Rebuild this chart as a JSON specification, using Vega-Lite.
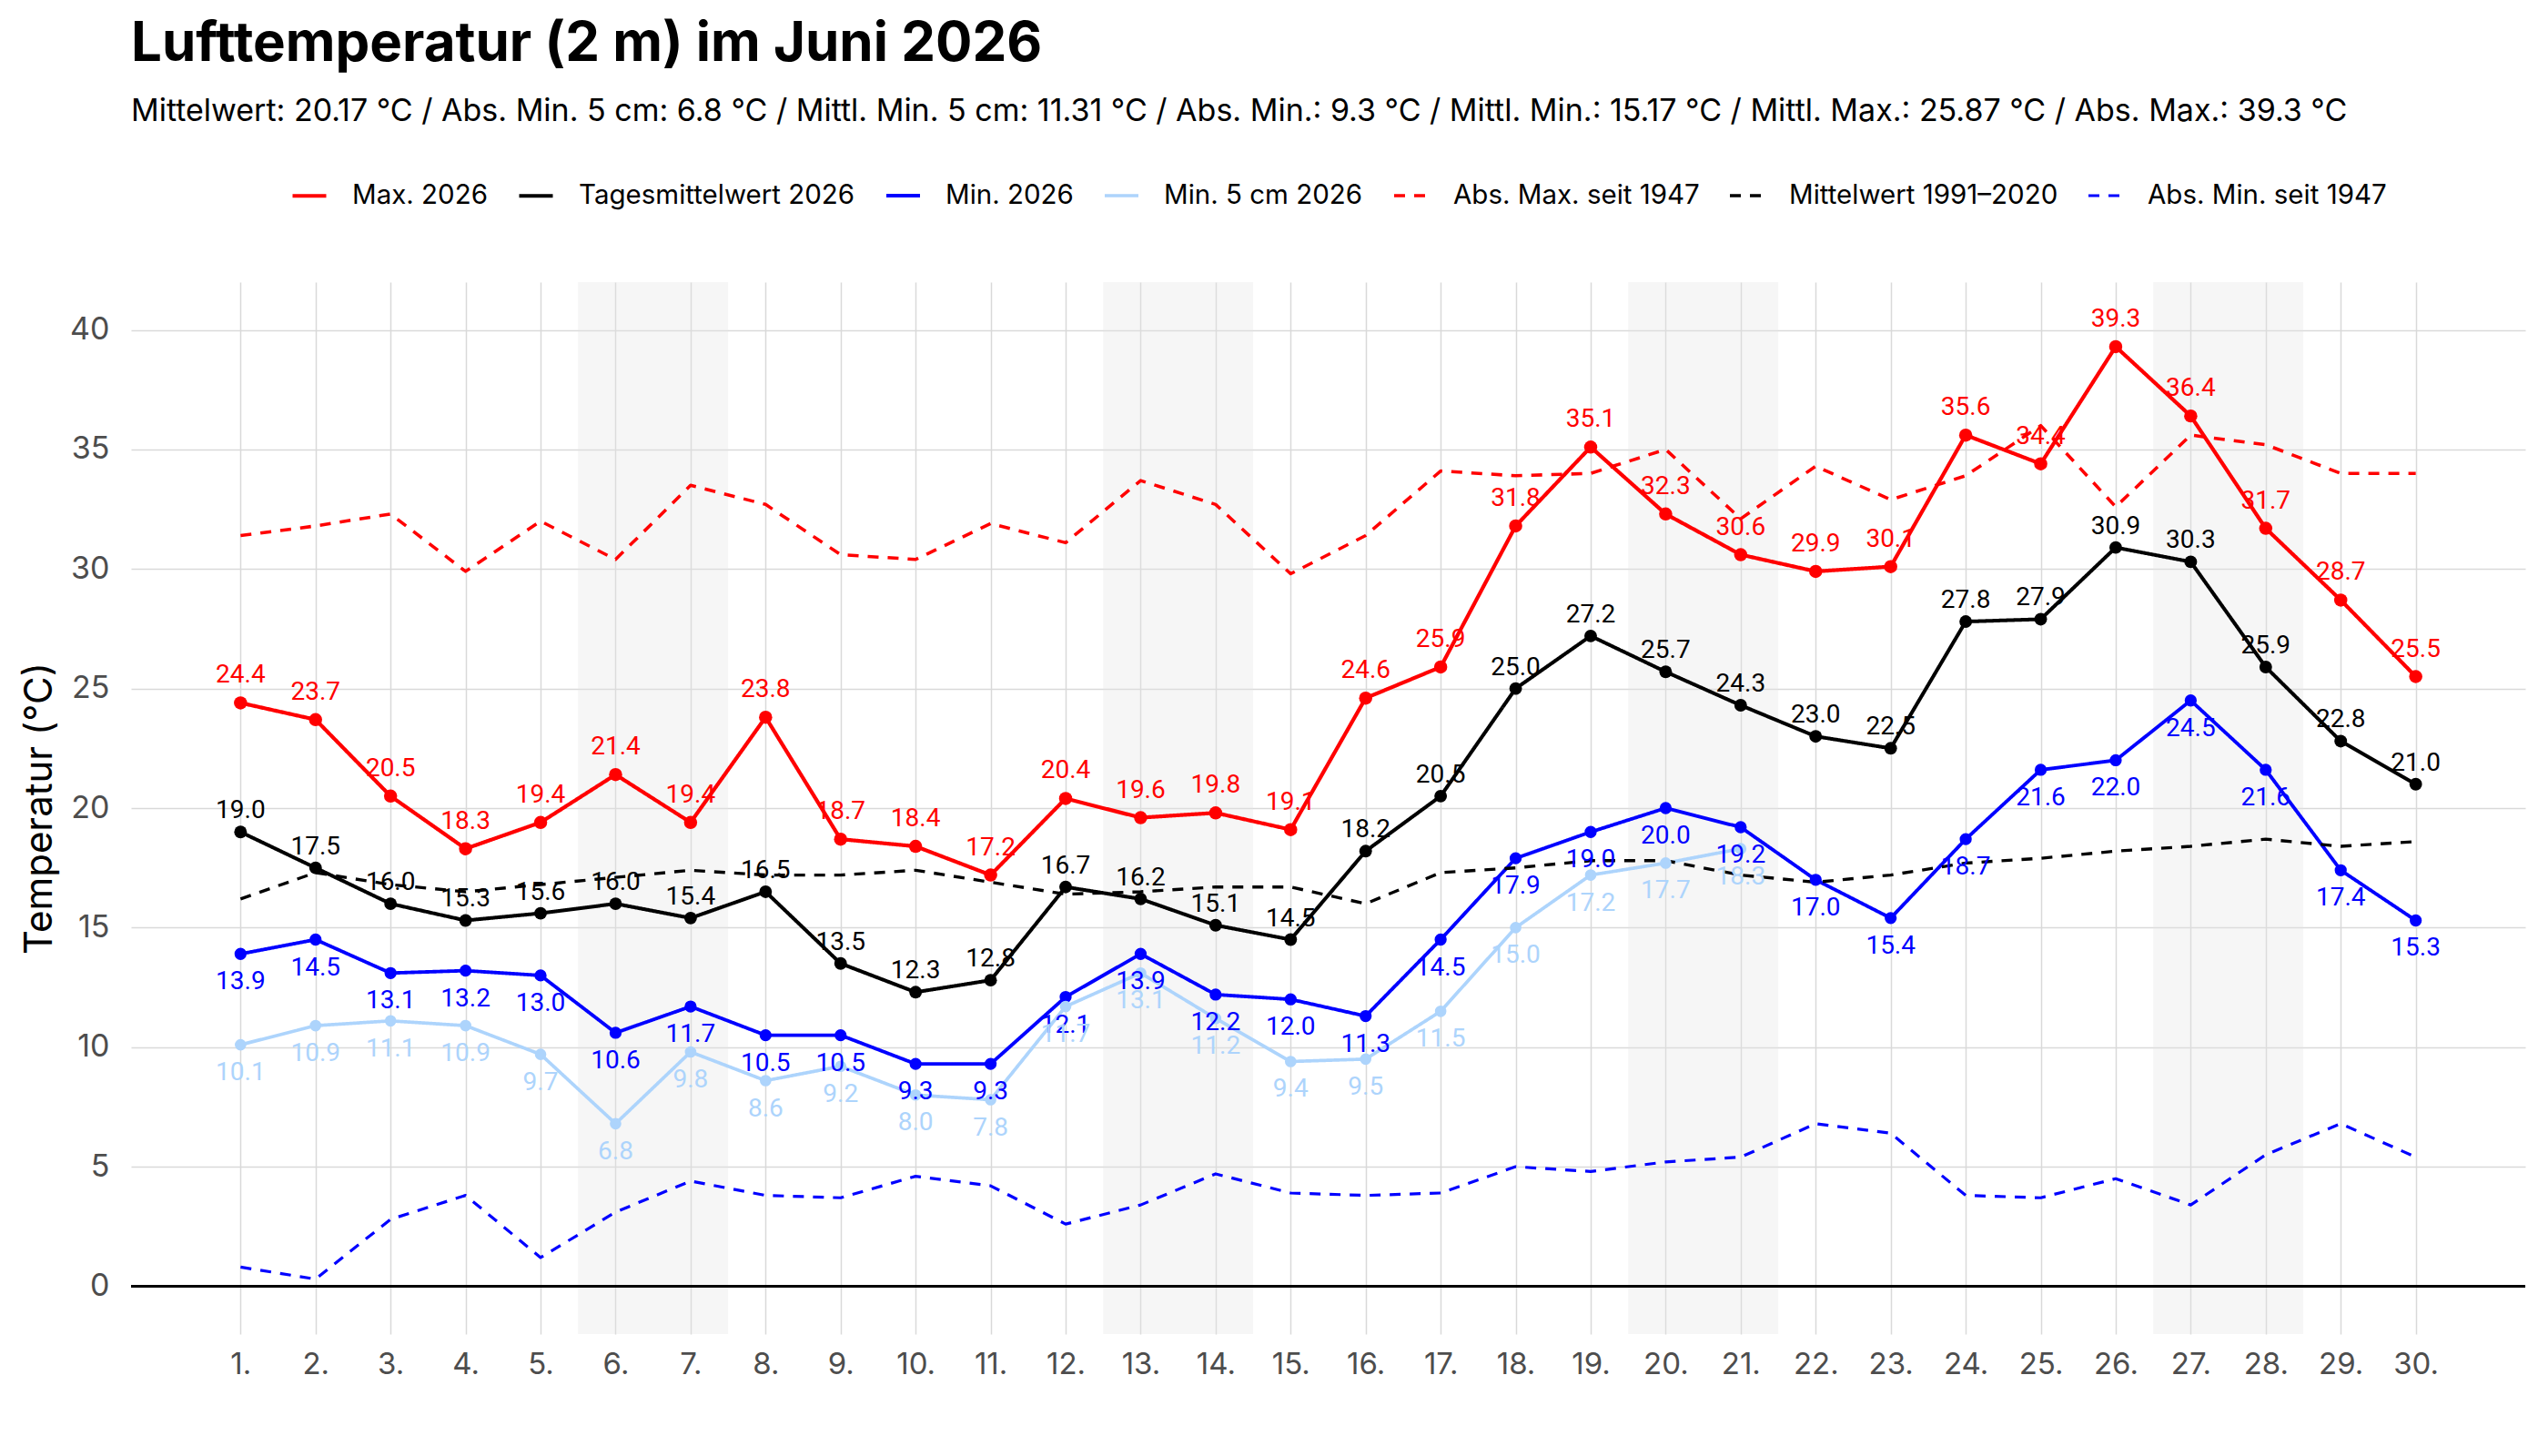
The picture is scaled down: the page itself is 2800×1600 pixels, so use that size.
{
  "$schema": "https://vega.github.io/schema/vega-lite/v6.json",
  "width": 2631,
  "height": 1156,
  "autosize": {"type": "none"},
  "padding": {"left": 144, "top": 310, "right": 25, "bottom": 134},
  "background": "white",
  "title": {
    "text": "Lufttemperatur (2 m) im Juni 2026",
    "subtitle": "Mittelwert: 20.17 °C / Abs. Min. 5 cm: 6.8 °C / Mittl. Min. 5 cm: 11.31 °C / Abs. Min.: 9.3 °C / Mittl. Min.: 15.17 °C / Mittl. Max.: 25.87 °C / Abs. Max.: 39.3 °C",
    "anchor": "start",
    "frame": "group",
    "font": "Inter",
    "fontSize": 60,
    "fontWeight": "bold",
    "color": "black",
    "subtitleFont": "Inter",
    "subtitleFontSize": 34,
    "subtitleColor": "black",
    "subtitlePadding": 26,
    "offset": 53
  },
  "datasets": {
    "wk": [
      {"von": 5.5, "bis": 7.5},
      {"von": 12.5, "bis": 14.5},
      {"von": 19.5, "bis": 21.5},
      {"von": 26.5, "bis": 28.5}
    ],
    "obs": [
      {"d":1,"s":"Max. 2026","v":24.4},{"d":2,"s":"Max. 2026","v":23.7},{"d":3,"s":"Max. 2026","v":20.5},{"d":4,"s":"Max. 2026","v":18.3},{"d":5,"s":"Max. 2026","v":19.4},{"d":6,"s":"Max. 2026","v":21.4},{"d":7,"s":"Max. 2026","v":19.4},{"d":8,"s":"Max. 2026","v":23.8},{"d":9,"s":"Max. 2026","v":18.7},{"d":10,"s":"Max. 2026","v":18.4},
      {"d":11,"s":"Max. 2026","v":17.2},{"d":12,"s":"Max. 2026","v":20.4},{"d":13,"s":"Max. 2026","v":19.6},{"d":14,"s":"Max. 2026","v":19.8},{"d":15,"s":"Max. 2026","v":19.1},{"d":16,"s":"Max. 2026","v":24.6},{"d":17,"s":"Max. 2026","v":25.9},{"d":18,"s":"Max. 2026","v":31.8},{"d":19,"s":"Max. 2026","v":35.1},{"d":20,"s":"Max. 2026","v":32.3},
      {"d":21,"s":"Max. 2026","v":30.6},{"d":22,"s":"Max. 2026","v":29.9},{"d":23,"s":"Max. 2026","v":30.1},{"d":24,"s":"Max. 2026","v":35.6},{"d":25,"s":"Max. 2026","v":34.4},{"d":26,"s":"Max. 2026","v":39.3},{"d":27,"s":"Max. 2026","v":36.4},{"d":28,"s":"Max. 2026","v":31.7},{"d":29,"s":"Max. 2026","v":28.7},{"d":30,"s":"Max. 2026","v":25.5},
      {"d":1,"s":"Tagesmittelwert 2026","v":19.0},{"d":2,"s":"Tagesmittelwert 2026","v":17.5},{"d":3,"s":"Tagesmittelwert 2026","v":16.0},{"d":4,"s":"Tagesmittelwert 2026","v":15.3},{"d":5,"s":"Tagesmittelwert 2026","v":15.6},{"d":6,"s":"Tagesmittelwert 2026","v":16.0},{"d":7,"s":"Tagesmittelwert 2026","v":15.4},{"d":8,"s":"Tagesmittelwert 2026","v":16.5},{"d":9,"s":"Tagesmittelwert 2026","v":13.5},{"d":10,"s":"Tagesmittelwert 2026","v":12.3},
      {"d":11,"s":"Tagesmittelwert 2026","v":12.8},{"d":12,"s":"Tagesmittelwert 2026","v":16.7},{"d":13,"s":"Tagesmittelwert 2026","v":16.2},{"d":14,"s":"Tagesmittelwert 2026","v":15.1},{"d":15,"s":"Tagesmittelwert 2026","v":14.5},{"d":16,"s":"Tagesmittelwert 2026","v":18.2},{"d":17,"s":"Tagesmittelwert 2026","v":20.5},{"d":18,"s":"Tagesmittelwert 2026","v":25.0},{"d":19,"s":"Tagesmittelwert 2026","v":27.2},{"d":20,"s":"Tagesmittelwert 2026","v":25.7},
      {"d":21,"s":"Tagesmittelwert 2026","v":24.3},{"d":22,"s":"Tagesmittelwert 2026","v":23.0},{"d":23,"s":"Tagesmittelwert 2026","v":22.5},{"d":24,"s":"Tagesmittelwert 2026","v":27.8},{"d":25,"s":"Tagesmittelwert 2026","v":27.9},{"d":26,"s":"Tagesmittelwert 2026","v":30.9},{"d":27,"s":"Tagesmittelwert 2026","v":30.3},{"d":28,"s":"Tagesmittelwert 2026","v":25.9},{"d":29,"s":"Tagesmittelwert 2026","v":22.8},{"d":30,"s":"Tagesmittelwert 2026","v":21.0},
      {"d":1,"s":"Min. 2026","v":13.9},{"d":2,"s":"Min. 2026","v":14.5},{"d":3,"s":"Min. 2026","v":13.1},{"d":4,"s":"Min. 2026","v":13.2},{"d":5,"s":"Min. 2026","v":13.0},{"d":6,"s":"Min. 2026","v":10.6},{"d":7,"s":"Min. 2026","v":11.7},{"d":8,"s":"Min. 2026","v":10.5},{"d":9,"s":"Min. 2026","v":10.5},{"d":10,"s":"Min. 2026","v":9.3},
      {"d":11,"s":"Min. 2026","v":9.3},{"d":12,"s":"Min. 2026","v":12.1},{"d":13,"s":"Min. 2026","v":13.9},{"d":14,"s":"Min. 2026","v":12.2},{"d":15,"s":"Min. 2026","v":12.0},{"d":16,"s":"Min. 2026","v":11.3},{"d":17,"s":"Min. 2026","v":14.5},{"d":18,"s":"Min. 2026","v":17.9},{"d":19,"s":"Min. 2026","v":19.0},{"d":20,"s":"Min. 2026","v":20.0},
      {"d":21,"s":"Min. 2026","v":19.2},{"d":22,"s":"Min. 2026","v":17.0},{"d":23,"s":"Min. 2026","v":15.4},{"d":24,"s":"Min. 2026","v":18.7},{"d":25,"s":"Min. 2026","v":21.6},{"d":26,"s":"Min. 2026","v":22.0},{"d":27,"s":"Min. 2026","v":24.5},{"d":28,"s":"Min. 2026","v":21.6},{"d":29,"s":"Min. 2026","v":17.4},{"d":30,"s":"Min. 2026","v":15.3},
      {"d":1,"s":"Min. 5 cm 2026","v":10.1},{"d":2,"s":"Min. 5 cm 2026","v":10.9},{"d":3,"s":"Min. 5 cm 2026","v":11.1},{"d":4,"s":"Min. 5 cm 2026","v":10.9},{"d":5,"s":"Min. 5 cm 2026","v":9.7},{"d":6,"s":"Min. 5 cm 2026","v":6.8},{"d":7,"s":"Min. 5 cm 2026","v":9.8},{"d":8,"s":"Min. 5 cm 2026","v":8.6},{"d":9,"s":"Min. 5 cm 2026","v":9.2},{"d":10,"s":"Min. 5 cm 2026","v":8.0},
      {"d":11,"s":"Min. 5 cm 2026","v":7.8},{"d":12,"s":"Min. 5 cm 2026","v":11.7},{"d":13,"s":"Min. 5 cm 2026","v":13.1},{"d":14,"s":"Min. 5 cm 2026","v":11.2},{"d":15,"s":"Min. 5 cm 2026","v":9.4},{"d":16,"s":"Min. 5 cm 2026","v":9.5},{"d":17,"s":"Min. 5 cm 2026","v":11.5},{"d":18,"s":"Min. 5 cm 2026","v":15.0},{"d":19,"s":"Min. 5 cm 2026","v":17.2},{"d":20,"s":"Min. 5 cm 2026","v":17.7},
      {"d":21,"s":"Min. 5 cm 2026","v":18.3},
      {"d":1,"s":"Abs. Max. seit 1947","v":31.4},{"d":2,"s":"Abs. Max. seit 1947","v":31.8},{"d":3,"s":"Abs. Max. seit 1947","v":32.3},{"d":4,"s":"Abs. Max. seit 1947","v":29.9},{"d":5,"s":"Abs. Max. seit 1947","v":32.0},{"d":6,"s":"Abs. Max. seit 1947","v":30.4},{"d":7,"s":"Abs. Max. seit 1947","v":33.5},{"d":8,"s":"Abs. Max. seit 1947","v":32.7},{"d":9,"s":"Abs. Max. seit 1947","v":30.6},{"d":10,"s":"Abs. Max. seit 1947","v":30.4},
      {"d":11,"s":"Abs. Max. seit 1947","v":31.9},{"d":12,"s":"Abs. Max. seit 1947","v":31.1},{"d":13,"s":"Abs. Max. seit 1947","v":33.7},{"d":14,"s":"Abs. Max. seit 1947","v":32.7},{"d":15,"s":"Abs. Max. seit 1947","v":29.8},{"d":16,"s":"Abs. Max. seit 1947","v":31.4},{"d":17,"s":"Abs. Max. seit 1947","v":34.1},{"d":18,"s":"Abs. Max. seit 1947","v":33.9},{"d":19,"s":"Abs. Max. seit 1947","v":34.0},{"d":20,"s":"Abs. Max. seit 1947","v":35.0},
      {"d":21,"s":"Abs. Max. seit 1947","v":32.1},{"d":22,"s":"Abs. Max. seit 1947","v":34.3},{"d":23,"s":"Abs. Max. seit 1947","v":32.9},{"d":24,"s":"Abs. Max. seit 1947","v":33.9},{"d":25,"s":"Abs. Max. seit 1947","v":36.0},{"d":26,"s":"Abs. Max. seit 1947","v":32.6},{"d":27,"s":"Abs. Max. seit 1947","v":35.6},{"d":28,"s":"Abs. Max. seit 1947","v":35.2},{"d":29,"s":"Abs. Max. seit 1947","v":34.0},{"d":30,"s":"Abs. Max. seit 1947","v":34.0},
      {"d":1,"s":"Mittelwert 1991–2020","v":16.2},{"d":2,"s":"Mittelwert 1991–2020","v":17.3},{"d":3,"s":"Mittelwert 1991–2020","v":16.8},{"d":4,"s":"Mittelwert 1991–2020","v":16.5},{"d":5,"s":"Mittelwert 1991–2020","v":16.8},{"d":6,"s":"Mittelwert 1991–2020","v":17.1},{"d":7,"s":"Mittelwert 1991–2020","v":17.4},{"d":8,"s":"Mittelwert 1991–2020","v":17.2},{"d":9,"s":"Mittelwert 1991–2020","v":17.2},{"d":10,"s":"Mittelwert 1991–2020","v":17.4},
      {"d":11,"s":"Mittelwert 1991–2020","v":16.9},{"d":12,"s":"Mittelwert 1991–2020","v":16.4},{"d":13,"s":"Mittelwert 1991–2020","v":16.5},{"d":14,"s":"Mittelwert 1991–2020","v":16.7},{"d":15,"s":"Mittelwert 1991–2020","v":16.7},{"d":16,"s":"Mittelwert 1991–2020","v":16.0},{"d":17,"s":"Mittelwert 1991–2020","v":17.3},{"d":18,"s":"Mittelwert 1991–2020","v":17.5},{"d":19,"s":"Mittelwert 1991–2020","v":17.8},{"d":20,"s":"Mittelwert 1991–2020","v":17.8},
      {"d":21,"s":"Mittelwert 1991–2020","v":17.2},{"d":22,"s":"Mittelwert 1991–2020","v":16.9},{"d":23,"s":"Mittelwert 1991–2020","v":17.2},{"d":24,"s":"Mittelwert 1991–2020","v":17.7},{"d":25,"s":"Mittelwert 1991–2020","v":17.9},{"d":26,"s":"Mittelwert 1991–2020","v":18.2},{"d":27,"s":"Mittelwert 1991–2020","v":18.4},{"d":28,"s":"Mittelwert 1991–2020","v":18.7},{"d":29,"s":"Mittelwert 1991–2020","v":18.4},{"d":30,"s":"Mittelwert 1991–2020","v":18.6},
      {"d":1,"s":"Abs. Min. seit 1947","v":0.8},{"d":2,"s":"Abs. Min. seit 1947","v":0.3},{"d":3,"s":"Abs. Min. seit 1947","v":2.8},{"d":4,"s":"Abs. Min. seit 1947","v":3.8},{"d":5,"s":"Abs. Min. seit 1947","v":1.2},{"d":6,"s":"Abs. Min. seit 1947","v":3.1},{"d":7,"s":"Abs. Min. seit 1947","v":4.4},{"d":8,"s":"Abs. Min. seit 1947","v":3.8},{"d":9,"s":"Abs. Min. seit 1947","v":3.7},{"d":10,"s":"Abs. Min. seit 1947","v":4.6},
      {"d":11,"s":"Abs. Min. seit 1947","v":4.2},{"d":12,"s":"Abs. Min. seit 1947","v":2.6},{"d":13,"s":"Abs. Min. seit 1947","v":3.4},{"d":14,"s":"Abs. Min. seit 1947","v":4.7},{"d":15,"s":"Abs. Min. seit 1947","v":3.9},{"d":16,"s":"Abs. Min. seit 1947","v":3.8},{"d":17,"s":"Abs. Min. seit 1947","v":3.9},{"d":18,"s":"Abs. Min. seit 1947","v":5.0},{"d":19,"s":"Abs. Min. seit 1947","v":4.8},{"d":20,"s":"Abs. Min. seit 1947","v":5.2},
      {"d":21,"s":"Abs. Min. seit 1947","v":5.4},{"d":22,"s":"Abs. Min. seit 1947","v":6.8},{"d":23,"s":"Abs. Min. seit 1947","v":6.4},{"d":24,"s":"Abs. Min. seit 1947","v":3.8},{"d":25,"s":"Abs. Min. seit 1947","v":3.7},{"d":26,"s":"Abs. Min. seit 1947","v":4.5},{"d":27,"s":"Abs. Min. seit 1947","v":3.4},{"d":28,"s":"Abs. Min. seit 1947","v":5.5},{"d":29,"s":"Abs. Min. seit 1947","v":6.8},{"d":30,"s":"Abs. Min. seit 1947","v":5.4}
    ]
  },
  "layer": [
    {
      "data": {"name": "wk"},
      "mark": {"type": "rect", "color": "#e2e2e2", "opacity": 0.32},
      "encoding": {
        "x": {"field": "von", "type": "quantitative", "scale": {"domain": [-0.46, 31.46], "nice": false, "zero": false},
          "axis": {"values": [1,2,3,4,5,6,7,8,9,10,11,12,13,14,15,16,17,18,19,20,21,22,23,24,25,26,27,28,29,30], "labelExpr": "datum.value + '.'", "title": null, "grid": true, "gridColor": "#d9d9d9", "gridWidth": 1.5, "domain": false, "ticks": false, "labelFont": "Inter", "labelFontSize": 33, "labelColor": "#4d4d4d", "labelPadding": 17, "labelFlush": false, "labelOverlap": false}},
        "x2": {"field": "bis"},
        "y": {"datum": -2, "type": "quantitative", "scale": {"domain": [-2, 42], "nice": false, "zero": false},
          "axis": {"values": [0,5,10,15,20,25,30,35,40], "title": "Temperatur (°C)", "grid": true, "gridColor": "#d9d9d9", "gridWidth": 1.5, "domain": false, "ticks": false, "labelFont": "Inter", "labelFontSize": 34, "labelColor": "#4d4d4d", "labelPadding": 24, "titleFont": "Inter", "titleFontSize": 42, "titleFontWeight": "normal", "titleColor": "black", "titlePadding": 11}},
        "y2": {"datum": 42}
      }
    },
    {
      "data": {"values": [{}]},
      "mark": {"type": "rule", "color": "black", "strokeWidth": 3},
      "encoding": {"y": {"datum": 0, "type": "quantitative"}}
    },
    {
      "data": {"name": "obs"},
      "mark": {"type": "line", "strokeJoin": "round"},
      "encoding": {
        "x": {"field": "d", "type": "quantitative"},
        "y": {"field": "v", "type": "quantitative"},
        "color": {"field": "s", "type": "nominal",
          "scale": {"domain": ["Max. 2026", "Tagesmittelwert 2026", "Min. 2026", "Min. 5 cm 2026", "Abs. Max. seit 1947", "Mittelwert 1991–2020", "Abs. Min. seit 1947"],
                    "range": ["#ff0000", "#000000", "#0000ff", "#add4fc", "#ff0000", "#000000", "#0000ff"]},
          "legend": {"title": null, "orient": "none", "direction": "horizontal", "legendX": 175, "legendY": -116}},
        "strokeDash": {"field": "s", "type": "nominal",
          "scale": {"domain": ["Max. 2026", "Tagesmittelwert 2026", "Min. 2026", "Min. 5 cm 2026", "Abs. Max. seit 1947", "Mittelwert 1991–2020", "Abs. Min. seit 1947"],
                    "range": [[1,0],[1,0],[1,0],[1,0],[12,10],[12,10],[12,10]]},
          "legend": {"title": null, "orient": "none", "direction": "horizontal", "legendX": 175, "legendY": -116}},
        "strokeWidth": {"field": "s", "type": "nominal",
          "scale": {"domain": ["Max. 2026", "Tagesmittelwert 2026", "Min. 2026", "Min. 5 cm 2026", "Abs. Max. seit 1947", "Mittelwert 1991–2020", "Abs. Min. seit 1947"],
                    "range": [4.2, 3.2, 4.6, 4.6, 3, 3, 3]},
          "legend": null}
      }
    },
    {
      "data": {"name": "obs"},
      "transform": [{"filter": {"field": "s", "oneOf": ["Max. 2026", "Tagesmittelwert 2026", "Min. 2026", "Min. 5 cm 2026"]}}],
      "mark": {"type": "point", "filled": true, "opacity": 1},
      "encoding": {
        "x": {"field": "d", "type": "quantitative"},
        "y": {"field": "v", "type": "quantitative"},
        "color": {"field": "s", "type": "nominal", "legend": null},
        "size": {"field": "s", "type": "nominal",
          "scale": {"domain": ["Max. 2026", "Tagesmittelwert 2026", "Min. 2026", "Min. 5 cm 2026"], "range": [210, 160, 210, 210]},
          "legend": null}
      }
    },
    {
      "data": {"name": "obs"},
      "transform": [{"filter": {"field": "s", "equal": "Max. 2026"}}],
      "mark": {"type": "text", "font": "Roboto", "fontSize": 28, "dy": -22, "baseline": "alphabetic", "color": "#ff0000"},
      "encoding": {
        "x": {"field": "d", "type": "quantitative"},
        "y": {"field": "v", "type": "quantitative"},
        "text": {"field": "v", "type": "quantitative", "format": ".1f"}
      }
    },
    {
      "data": {"name": "obs"},
      "transform": [{"filter": {"field": "s", "equal": "Tagesmittelwert 2026"}}],
      "mark": {"type": "text", "font": "Roboto", "fontSize": 28, "dy": -15, "baseline": "alphabetic", "color": "#000000"},
      "encoding": {
        "x": {"field": "d", "type": "quantitative"},
        "y": {"field": "v", "type": "quantitative"},
        "text": {"field": "v", "type": "quantitative", "format": ".1f"}
      }
    },
    {
      "data": {"name": "obs"},
      "transform": [{"filter": {"field": "s", "oneOf": ["Min. 2026", "Min. 5 cm 2026"]}}],
      "mark": {"type": "text", "font": "Roboto", "fontSize": 28, "dy": 39, "baseline": "alphabetic"},
      "encoding": {
        "x": {"field": "d", "type": "quantitative"},
        "y": {"field": "v", "type": "quantitative"},
        "color": {"field": "s", "type": "nominal", "legend": null},
        "text": {"field": "v", "type": "quantitative", "format": ".1f"}
      }
    }
  ],
  "config": {
    "view": {"stroke": null},
    "legend": {
      "labelFont": "Inter",
      "labelFontSize": 29.5,
      "labelColor": "black",
      "labelLimit": 600,
      "symbolType": "stroke",
      "symbolSize": 1369,
      "symbolStrokeWidth": 4,
      "labelOffset": 26,
      "columnPadding": 26
    }
  }
}
